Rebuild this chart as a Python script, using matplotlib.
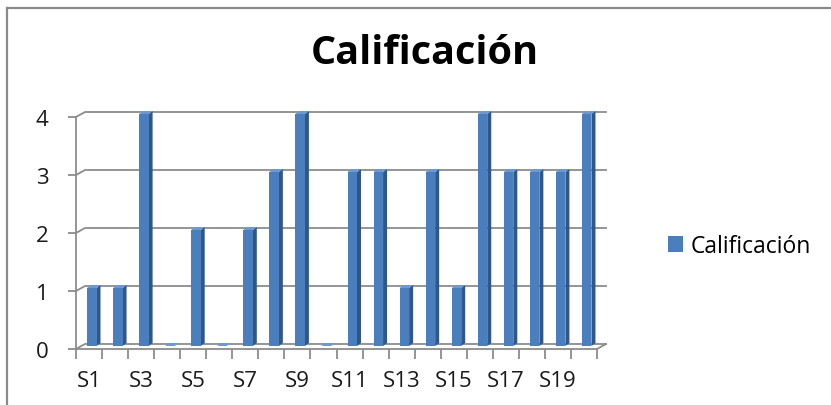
import matplotlib
matplotlib.use("Agg")
import matplotlib.pyplot as plt
from matplotlib.patches import Polygon, Rectangle
from matplotlib.lines import Line2D

# Data
categories = [f"S{i}" for i in range(1, 21)]
values = [1, 1, 4, 0, 2, 0, 2, 3, 4, 0, 3, 3, 1, 3, 1, 4, 3, 3, 3, 4]
y_ticks = [0, 1, 2, 3, 4]
series_name = "Calificación"
title = "Calificación"

W, H, DPI = 831, 406, 100
fig = plt.figure(figsize=(W / DPI, H / DPI), dpi=DPI)
fig.patch.set_facecolor("white")

# outer chart frame (top and left edges visible)
fig.add_artist(Line2D([7 / W, 7 / W], [0, 1 - 9 / H], color="#8a8a8a", lw=1.6,
                      transform=fig.transFigure))
fig.add_artist(Line2D([7 / W, 1], [1 - 9 / H, 1 - 9 / H], color="#8a8a8a", lw=1.6,
                      transform=fig.transFigure))

# front plane of the plot area in pixels
px_left, px_right, px_zero, px_top = 76, 597, 350, 118
ax = fig.add_axes([px_left / W, 1 - px_zero / H,
                   (px_right - px_left) / W, (px_zero - px_top) / H])
n = len(categories)
ymax = max(y_ticks)
ax.set_xlim(0, n)
ax.set_ylim(0, ymax)
ux = n / (px_right - px_left)      # data units per pixel (x)
uy = ymax / (px_zero - px_top)     # data units per pixel (y)

grid_c = "#8c8c8c"
gdx, gdy = 9 * ux, 5 * uy          # depth offset of back wall

# back wall gridlines with the left-wall diagonals
for v in y_ticks:
    ax.plot([0, gdx, n + gdx], [v, v + gdy, v + gdy], color=grid_c, lw=1.3,
            clip_on=False, zorder=1, solid_joinstyle="miter")
# floor right edge
ax.plot([n, n + gdx], [0, gdy], color=grid_c, lw=1.3, clip_on=False, zorder=1)

# 3D-style columns
front_c, side_c, top_c = "#4a7ebd", "#30578c", "#6d98d0"
bx, by = 3 * ux, 3 * uy            # columns sit slightly back from the front plane
bw = 9.5 * ux                       # front face width
ddx, ddy = 4 * ux, 3 * uy          # column depth
for i, v in enumerate(values):
    xl = i + 11 * ux
    xr = xl + bw
    yb = by
    yt = v + by
    ax.add_patch(Polygon([(xr, yb), (xr + ddx, yb + ddy), (xr + ddx, yt + ddy), (xr, yt)],
                         closed=True, facecolor=side_c, edgecolor="none",
                         clip_on=False, zorder=3))
    ax.add_patch(Polygon([(xl, yt), (xr, yt), (xr + ddx, yt + ddy), (xl + ddx, yt + ddy)],
                         closed=True, facecolor=top_c, edgecolor="none",
                         clip_on=False, zorder=3))
    if v > 0:
        ax.add_patch(Rectangle((xl, yb), bw, v, facecolor=front_c, edgecolor="none",
                               clip_on=False, zorder=4))

# axes styling
for s in ["top", "right"]:
    ax.spines[s].set_visible(False)
for s in ["left", "bottom"]:
    ax.spines[s].set_color(grid_c)
    ax.spines[s].set_linewidth(1.3)
    ax.spines[s].set_zorder(2)
ax.patch.set_alpha(0)

font = "Open Sans"
ax.set_yticks(y_ticks)
ax.set_yticklabels([str(v) for v in y_ticks], fontsize=16, family=font, color="#1a1a1a")
ax.tick_params(axis="y", length=6, width=1.3, color=grid_c, pad=14)

ax.set_xticks(range(0, n + 1))
ax.set_xticklabels([])
ax.tick_params(axis="x", which="major", length=7, width=1.3, color=grid_c)
label_pos = [i + 0.5 for i in range(0, n, 2)]
ax.set_xticks(label_pos, minor=True)
ax.set_xticklabels(categories[::2], minor=True, fontsize=16, family=font, color="#1a1a1a")
ax.tick_params(axis="x", which="minor", length=0, pad=15)

# title
fig.text(425 / W, 1 - 53 / H, title, ha="center", va="center", fontsize=28.5,
         fontweight="bold", family=font, color="black")

# legend
handle = Rectangle((0, 0), 1, 1, facecolor=front_c, edgecolor="none")
fig.legend([handle], [series_name], loc="center left",
           bbox_to_anchor=(668 / W, 1 - 247 / H), frameon=False,
           prop={"family": font, "size": 16.5}, handlelength=0.65, handleheight=0.65,
           handletextpad=0.35, borderpad=0, borderaxespad=0)

fig.savefig("out.png", dpi=DPI, facecolor="white")
